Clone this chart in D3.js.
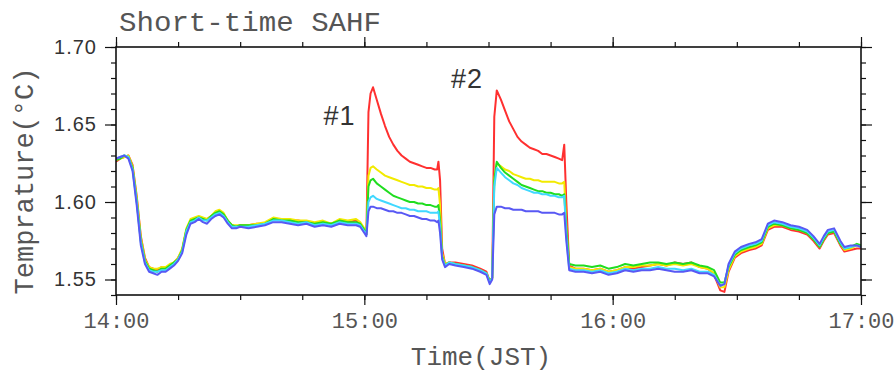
<!DOCTYPE html>
<html>
<head>
<meta charset="utf-8">
<script src="https://cdn.jsdelivr.net/npm/d3@7"></script>
<style>
  html, body { margin: 0; padding: 0; background: #fff; }
  svg { display: block; }
</style>
</head>
<body>
<svg id="chart" width="896" height="376"></svg>
<script>
// Minutes after 14:00 JST
const minutes = [
  0, 1, 2, 3, 4, 5, 6, 7, 8, 9, 10, 11, 12, 13, 14, 15, 16, 17, 18, 19,
  20, 21, 22, 23, 24, 25, 26, 27, 28, 29, 30, 32, 34, 36, 38, 40, 42, 44, 46, 48,
  50, 52, 54, 56, 58, 59, 60, 60.5, 61, 61.5, 62.1, 63, 64, 65, 66, 67, 68, 69,
  70, 71, 72, 73, 74, 75, 76, 77, 77.6, 77.9, 78.3, 78.8, 79.5, 80.5, 82, 84, 86, 88,
  89.5, 90.3, 90.9, 91.4, 92, 93, 94, 95, 96, 97, 98, 99, 100, 101, 102, 103, 104, 105,
  106, 107, 107.8, 108.3, 108.8, 109.5, 111, 113, 115, 117, 119, 121, 123, 125, 127, 129,
  131, 133, 135, 137, 139, 141, 143, 144.5, 146, 147, 148, 149.5, 151, 153, 154.5, 156,
  157.5, 159, 161, 163, 165, 167, 168.5, 170, 171, 172, 173.5, 175, 176, 177.5, 179, 180
];

// Temperature (°C) of the five sensors
const tempRed = [
  1.626, 1.628, 1.629, 1.630, 1.624, 1.604, 1.578, 1.564, 1.558, 1.557, 1.556, 1.558, 1.557, 1.559, 1.561, 1.564, 1.569, 1.582, 1.588, 1.589,
  1.590, 1.589, 1.589, 1.591, 1.593, 1.594, 1.592, 1.588, 1.585, 1.584, 1.585, 1.585, 1.586, 1.586, 1.589, 1.589, 1.588, 1.588, 1.587, 1.586,
  1.587, 1.586, 1.588, 1.587, 1.588, 1.586, 1.582, 1.579, 1.658, 1.670, 1.674, 1.666, 1.657, 1.649, 1.642, 1.637, 1.633, 1.630,
  1.628, 1.626, 1.625, 1.624, 1.623, 1.622, 1.622, 1.621, 1.621, 1.626, 1.614, 1.570, 1.560, 1.561, 1.561, 1.560, 1.559, 1.557,
  1.555, 1.549, 1.551, 1.655, 1.672, 1.666, 1.659, 1.652, 1.647, 1.642, 1.639, 1.637, 1.635, 1.634, 1.633, 1.631, 1.631, 1.630,
  1.629, 1.628, 1.627, 1.637, 1.600, 1.559, 1.557, 1.557, 1.556, 1.557, 1.555, 1.556, 1.558, 1.557, 1.558, 1.559,
  1.560, 1.559, 1.561, 1.560, 1.561, 1.558, 1.557, 1.553, 1.543, 1.542, 1.555, 1.564, 1.567, 1.569, 1.570, 1.572,
  1.582, 1.584, 1.584, 1.582, 1.581, 1.579, 1.575, 1.570, 1.575, 1.579, 1.580, 1.572, 1.568, 1.569, 1.570, 1.570
];
const tempYellow = [
  1.627, 1.628, 1.629, 1.630, 1.623, 1.603, 1.577, 1.563, 1.558, 1.557, 1.557, 1.558, 1.558, 1.560, 1.561, 1.564, 1.570, 1.583, 1.589, 1.590,
  1.591, 1.590, 1.589, 1.591, 1.594, 1.595, 1.593, 1.588, 1.585, 1.585, 1.585, 1.585, 1.586, 1.587, 1.590, 1.589, 1.589, 1.588, 1.588, 1.587,
  1.588, 1.586, 1.589, 1.588, 1.589, 1.587, 1.583, 1.580, 1.617, 1.622, 1.623, 1.621, 1.619, 1.617, 1.616, 1.615, 1.614, 1.613,
  1.612, 1.611, 1.611, 1.610, 1.610, 1.609, 1.609, 1.608, 1.608, 1.609, 1.598, 1.567, 1.560, 1.561, 1.560, 1.559, 1.558, 1.556,
  1.554, 1.549, 1.551, 1.615, 1.625, 1.623, 1.621, 1.620, 1.618, 1.617, 1.616, 1.615, 1.615, 1.614, 1.614, 1.613, 1.613, 1.613,
  1.613, 1.612, 1.612, 1.613, 1.585, 1.558, 1.557, 1.557, 1.556, 1.557, 1.555, 1.556, 1.558, 1.558, 1.559, 1.559,
  1.560, 1.559, 1.560, 1.559, 1.560, 1.558, 1.557, 1.554, 1.545, 1.545, 1.556, 1.565, 1.568, 1.570, 1.571, 1.573,
  1.583, 1.585, 1.585, 1.583, 1.582, 1.580, 1.576, 1.571, 1.576, 1.580, 1.581, 1.573, 1.569, 1.570, 1.572, 1.571
];
const tempGreen = [
  1.627, 1.628, 1.630, 1.629, 1.622, 1.601, 1.575, 1.562, 1.557, 1.556, 1.555, 1.557, 1.557, 1.559, 1.561, 1.563, 1.569, 1.582, 1.588, 1.589,
  1.590, 1.589, 1.588, 1.591, 1.593, 1.594, 1.592, 1.588, 1.585, 1.584, 1.585, 1.585, 1.585, 1.586, 1.589, 1.588, 1.588, 1.587, 1.587, 1.586,
  1.587, 1.586, 1.588, 1.587, 1.587, 1.586, 1.582, 1.579, 1.610, 1.614, 1.615, 1.612, 1.610, 1.608, 1.606, 1.604, 1.603, 1.602,
  1.601, 1.600, 1.600, 1.599, 1.599, 1.598, 1.598, 1.597, 1.597, 1.598, 1.588, 1.565, 1.559, 1.561, 1.560, 1.559, 1.558, 1.556,
  1.554, 1.549, 1.551, 1.614, 1.626, 1.622, 1.619, 1.617, 1.615, 1.613, 1.611, 1.610, 1.609, 1.608, 1.607, 1.607, 1.606, 1.606,
  1.605, 1.605, 1.604, 1.605, 1.583, 1.560, 1.559, 1.559, 1.558, 1.559, 1.557, 1.558, 1.560, 1.559, 1.560, 1.561,
  1.561, 1.560, 1.561, 1.560, 1.561, 1.559, 1.558, 1.556, 1.548, 1.548, 1.558, 1.566, 1.569, 1.571, 1.572, 1.574,
  1.584, 1.586, 1.585, 1.583, 1.582, 1.580, 1.576, 1.571, 1.576, 1.580, 1.581, 1.573, 1.570, 1.571, 1.573, 1.572
];
const tempCyan = [
  1.628, 1.629, 1.630, 1.629, 1.621, 1.600, 1.574, 1.561, 1.556, 1.555, 1.555, 1.556, 1.556, 1.558, 1.560, 1.563, 1.568, 1.581, 1.587, 1.588,
  1.590, 1.588, 1.588, 1.590, 1.592, 1.593, 1.591, 1.587, 1.584, 1.584, 1.584, 1.584, 1.585, 1.586, 1.588, 1.588, 1.587, 1.586, 1.587, 1.585,
  1.586, 1.585, 1.587, 1.586, 1.586, 1.585, 1.581, 1.579, 1.600, 1.603, 1.604, 1.602, 1.601, 1.600, 1.599, 1.598, 1.597, 1.596,
  1.596, 1.595, 1.595, 1.594, 1.594, 1.594, 1.593, 1.593, 1.593, 1.594, 1.584, 1.564, 1.559, 1.561, 1.560, 1.559, 1.558, 1.556,
  1.554, 1.548, 1.551, 1.610, 1.622, 1.619, 1.616, 1.614, 1.612, 1.611, 1.609, 1.608, 1.607, 1.606, 1.606, 1.605, 1.605, 1.604,
  1.604, 1.603, 1.603, 1.604, 1.578, 1.557, 1.556, 1.556, 1.555, 1.556, 1.554, 1.555, 1.557, 1.556, 1.557, 1.557,
  1.558, 1.557, 1.557, 1.556, 1.557, 1.555, 1.555, 1.553, 1.546, 1.547, 1.559, 1.567, 1.570, 1.572, 1.573, 1.575,
  1.585, 1.587, 1.586, 1.584, 1.583, 1.581, 1.577, 1.572, 1.577, 1.581, 1.582, 1.574, 1.570, 1.571, 1.572, 1.571
];
const tempBlue = [
  1.628, 1.629, 1.630, 1.628, 1.620, 1.598, 1.572, 1.560, 1.555, 1.554, 1.553, 1.555, 1.555, 1.557, 1.559, 1.562, 1.567, 1.579, 1.586, 1.587,
  1.589, 1.587, 1.586, 1.589, 1.591, 1.592, 1.590, 1.586, 1.583, 1.583, 1.584, 1.583, 1.584, 1.585, 1.587, 1.587, 1.586, 1.585, 1.586, 1.584,
  1.585, 1.584, 1.586, 1.585, 1.585, 1.584, 1.580, 1.578, 1.594, 1.597, 1.597, 1.596, 1.596, 1.595, 1.594, 1.594, 1.593, 1.593,
  1.592, 1.591, 1.591, 1.590, 1.589, 1.589, 1.588, 1.588, 1.587, 1.588, 1.580, 1.563, 1.558, 1.560, 1.559, 1.558, 1.557, 1.555,
  1.553, 1.547, 1.550, 1.592, 1.597, 1.597, 1.596, 1.596, 1.595, 1.595, 1.595, 1.594, 1.594, 1.594, 1.594, 1.593, 1.593, 1.593,
  1.593, 1.592, 1.592, 1.593, 1.575, 1.556, 1.555, 1.555, 1.554, 1.555, 1.553, 1.554, 1.556, 1.555, 1.556, 1.556,
  1.557, 1.556, 1.555, 1.555, 1.556, 1.554, 1.554, 1.552, 1.546, 1.547, 1.560, 1.568, 1.571, 1.573, 1.574, 1.576,
  1.586, 1.588, 1.587, 1.585, 1.584, 1.582, 1.578, 1.573, 1.578, 1.582, 1.583, 1.575, 1.571, 1.572, 1.572, 1.571
];

const seriesNames = ["red", "yellow", "green", "cyan", "blue"];
const seriesColors = ["#ff3030", "#f2ea00", "#20dd20", "#40d8ff", "#5858f4"];
const seriesValues = [tempRed, tempYellow, tempGreen, tempCyan, tempBlue];

const hourTicks = [0, 60, 120, 180];
const hourLabels = ["14:00", "15:00", "16:00", "17:00"];
const quarterTicks = d3.range(0, 181, 15);
const tempMajorTicks = [1.55, 1.60, 1.65, 1.70];
const tempMinorTicks = d3.range(154, 171).map(v => v / 100);

const titleText = "Short-time SAHF";
const xTitle = "Time(JST)";
const yTitle = "Temprature(\u00B0C)";
const eventLabels = [
  { text: "#1", t: 54.0, v: 1.6497 },
  { text: "#2", t: 84.8, v: 1.6736 }
];

const svg = d3.select("#chart");
const plot = { left: 116, right: 861, top: 47, bottom: 295 };

const x = d3.scaleLinear().domain([0, 180]).range([plot.left, plot.right]);
const y = d3.scaleLinear().domain([1.54, 1.70]).range([plot.bottom, plot.top]);

svg.append("defs").append("clipPath").attr("id", "plotClip")
  .append("rect")
  .attr("x", plot.left).attr("y", plot.top)
  .attr("width", plot.right - plot.left).attr("height", plot.bottom - plot.top);

// Data lines, red drawn first and blue on top
const line = d3.line()
  .x((d, i) => x(minutes[i]))
  .y(d => y(d));

const lines = svg.append("g").attr("clip-path", "url(#plotClip)");
seriesValues.forEach((vals, k) => {
  lines.append("path")
    .datum(vals)
    .attr("class", "series-" + seriesNames[k])
    .attr("fill", "none")
    .attr("stroke", seriesColors[k])
    .attr("stroke-width", 2)
    .attr("stroke-linejoin", "round")
    .attr("d", line);
});

// Axes: ticks pointing outward on all four sides
function styleAxis(g) {
  g.select(".domain").remove();
  g.selectAll(".tick line").attr("stroke", "#111").attr("stroke-width", 1.2);
}

const noLabel = () => "";
const monoFont = "'Liberation Mono', 'DejaVu Sans Mono', monospace";
const sansFont = "'Liberation Sans', Arial, sans-serif";

svg.append("g").attr("transform", `translate(0,${plot.bottom})`)
  .call(d3.axisBottom(x).tickValues(quarterTicks).tickSize(5).tickFormat(noLabel))
  .call(styleAxis);
svg.append("g").attr("transform", `translate(0,${plot.bottom})`)
  .call(d3.axisBottom(x).tickValues(hourTicks).tickSize(10).tickPadding(7)
    .tickFormat((d, i) => hourLabels[i]))
  .call(styleAxis)
  .call(g => g.selectAll("text")
    .attr("font-family", monoFont)
    .attr("font-size", 22).attr("fill", "#555"));

svg.append("g").attr("transform", `translate(0,${plot.top})`)
  .call(d3.axisTop(x).tickValues(quarterTicks).tickSize(5).tickFormat(noLabel))
  .call(styleAxis);
svg.append("g").attr("transform", `translate(0,${plot.top})`)
  .call(d3.axisTop(x).tickValues(hourTicks).tickSize(10).tickFormat(noLabel))
  .call(styleAxis);

svg.append("g").attr("transform", `translate(${plot.left},0)`)
  .call(d3.axisLeft(y).tickValues(tempMinorTicks).tickSize(5).tickFormat(noLabel))
  .call(styleAxis);
svg.append("g").attr("transform", `translate(${plot.left},0)`)
  .call(d3.axisLeft(y).tickValues(tempMajorTicks).tickSize(11).tickPadding(8)
    .tickFormat(d3.format(".2f")))
  .call(styleAxis)
  .call(g => g.selectAll("text")
    .attr("font-family", sansFont)
    .attr("font-size", 20).attr("letter-spacing", 1).attr("fill", "#333"));

svg.append("g").attr("transform", `translate(${plot.right},0)`)
  .call(d3.axisRight(y).tickValues(tempMinorTicks).tickSize(5).tickFormat(noLabel))
  .call(styleAxis);
svg.append("g").attr("transform", `translate(${plot.right},0)`)
  .call(d3.axisRight(y).tickValues(tempMajorTicks).tickSize(11).tickFormat(noLabel))
  .call(styleAxis);

// Frame
svg.append("rect")
  .attr("x", plot.left).attr("y", plot.top)
  .attr("width", plot.right - plot.left).attr("height", plot.bottom - plot.top)
  .attr("fill", "none").attr("stroke", "#111").attr("stroke-width", 1.6);

// Titles
svg.append("text")
  .attr("x", plot.left + 3).attr("y", 31)
  .attr("font-family", monoFont)
  .attr("font-size", 27).attr("fill", "#555")
  .attr("textLength", 262).attr("lengthAdjust", "spacingAndGlyphs")
  .text(titleText);

svg.append("text")
  .attr("x", 481).attr("y", 365)
  .attr("text-anchor", "middle")
  .attr("font-family", monoFont)
  .attr("font-size", 26).attr("fill", "#555")
  .text(xTitle);

svg.append("text")
  .attr("transform", `translate(33,${(plot.top + plot.bottom) / 2 + 10}) rotate(-90)`)
  .attr("text-anchor", "middle")
  .attr("font-family", monoFont)
  .attr("font-size", 27).attr("fill", "#555")
  .text(yTitle);

// Event markers
svg.append("g").selectAll("text")
  .data(eventLabels)
  .join("text")
  .attr("x", d => x(d.t)).attr("y", d => y(d.v))
  .attr("text-anchor", "middle")
  .attr("font-family", sansFont)
  .attr("font-size", 27).attr("letter-spacing", 1).attr("fill", "#333")
  .text(d => d.text);
</script>
</body>
</html>
